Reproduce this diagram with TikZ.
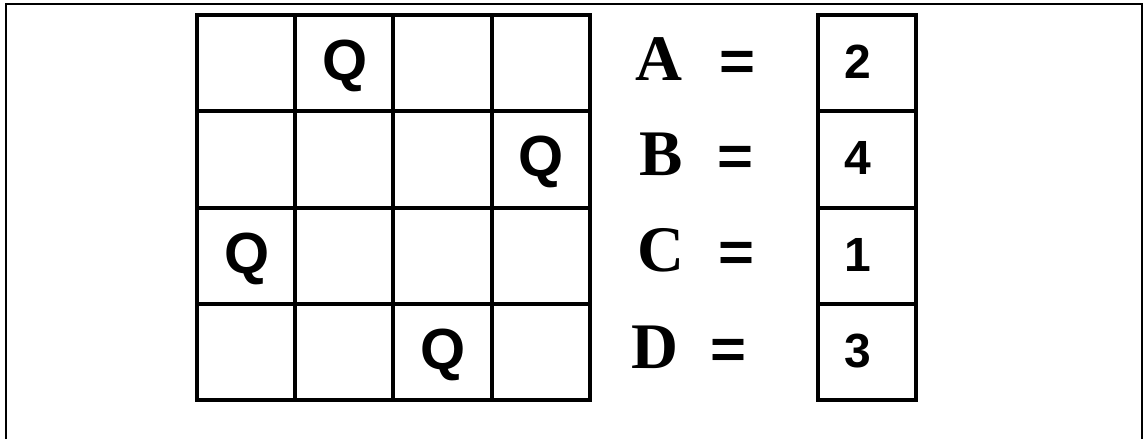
\documentclass[tikz,border=0pt]{standalone}
\usepackage{fontspec}
\setmainfont{Liberation Serif}
\newfontfamily\hv{Liberation Sans}
\begin{document}
\begin{tikzpicture}[x=1pt,y=-1pt,
  gridline/.style={line width=3.4pt,line cap=rect},
  frameline/.style={line width=1.4pt},
  queen/.style={anchor=base,inner sep=0pt,font=\hv\bfseries\fontsize{58}{58}\selectfont},
  varname/.style={anchor=base,inner sep=0pt,font=\bfseries\fontsize{65}{65}\selectfont},
  eqsign/.style={anchor=base,inner sep=0pt,xscale=1.1,font=\hv\bfseries\fontsize{56}{56}\selectfont},
  valnum/.style={anchor=base,inner sep=0pt,font=\hv\bfseries\fontsize{48}{48}\selectfont}]
\useasboundingbox (0,0) rectangle (1148,439);
% outer frame (open at the bottom)
\draw[frameline] (6,439) -- (6,4) -- (1142,4) -- (1142,439);
% board
\foreach \x in {197,295,393,492,590} \draw[gridline] (\x,15) -- (\x,400);
\foreach \y in {15,111,208,304,400} \draw[gridline] (197,\y) -- (590,\y);
% value column
\foreach \x in {818,916} \draw[gridline] (\x,15) -- (\x,400);
\foreach \y in {15,111,208,304,400} \draw[gridline] (818,\y) -- (916,\y);
% queens
\node[queen] (q1) at (345,80) {Q};
\node[queen] (q2) at (541,176) {Q};
\node[queen] (q3) at (247,273) {Q};
\node[queen] (q4) at (443,369) {Q};
% names
\node[varname] (na) at (659,80) {A};
\node[varname] (nb) at (661,175) {B};
\node[varname] (nc) at (661,271) {C};
\node[varname] (nd) at (655,368) {D};
\node[eqsign] (ea) at (737,80) {=};
\node[eqsign] (eb) at (735,175) {=};
\node[eqsign] (ec) at (736,271) {=};
\node[eqsign] (ed) at (728,368) {=};
% values
\node[valnum] (va) at (858,78) {2};
\node[valnum] (vb) at (858,174) {4};
\node[valnum] (vc) at (858,271) {1};
\node[valnum] (vd) at (858,367) {3};
\end{tikzpicture}
\end{document}
